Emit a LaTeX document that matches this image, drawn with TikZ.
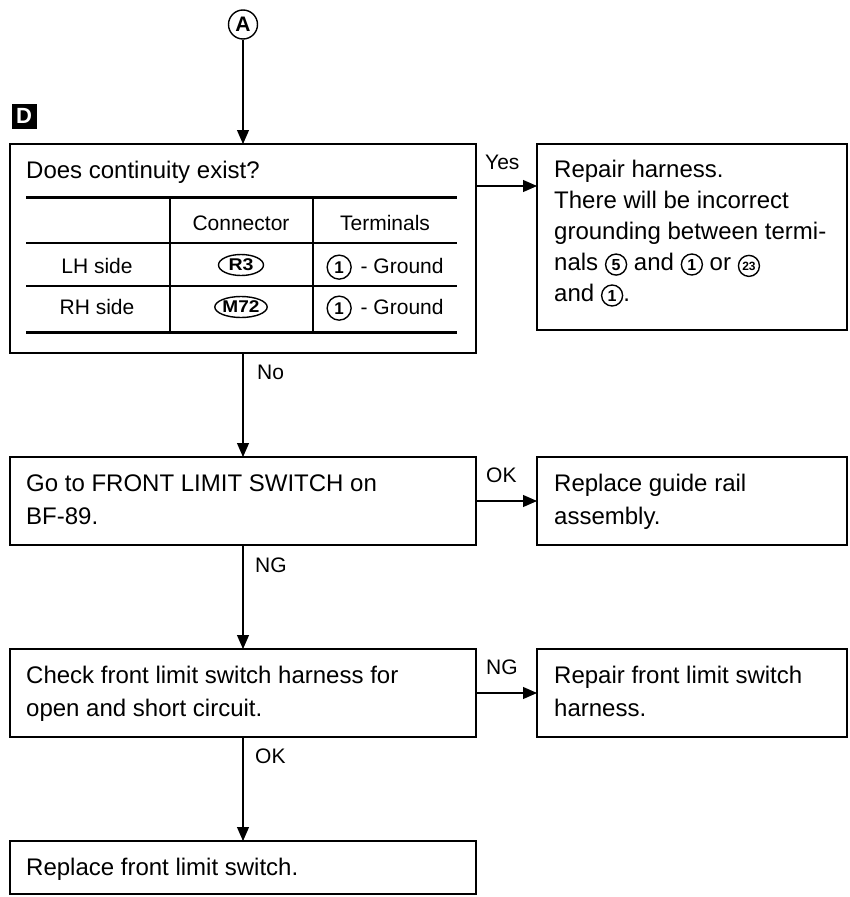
\documentclass[tikz,border=0pt]{standalone}
\usepackage{fontspec}
\usepackage{graphicx}
\setmainfont{Liberation Sans}
\usetikzlibrary{arrows.meta,shapes.geometric}
\newcommand{\circnum}[3]{\tikz[baseline=(cn.base)]{\node[inner sep=0pt,font=\fontsize{#2}{#2}\selectfont\bfseries](cn){#3};\draw[line width=1.4pt] (cn.center) circle[radius=#1pt];}}
\begin{document}
\begin{tikzpicture}[x=1pt,y=-1pt,
  box/.style={draw,line width=1.3pt,inner sep=0pt,outer sep=0pt},
  arr/.style={line width=1.1pt,-{Triangle[length=14pt,width=12pt]}},
  main/.style={inner sep=0pt,anchor=base west,font=\fontsize{24}{24}\selectfont},
  lbl/.style={inner sep=0pt,anchor=base west,font=\fontsize{21}{21}\selectfont},
  cell/.style={inner sep=0pt,anchor=base,font=\fontsize{21}{21}\selectfont},
  conn/.style={draw,ellipse,line width=1.4pt,inner sep=0pt,minimum width=45pt,minimum height=21pt,font=\fontsize{17}{17}\selectfont\bfseries},
  thick rule/.style={line width=3pt},
  thin rule/.style={line width=1.1pt}]
\useasboundingbox (0,0) rectangle (850,897);

% connector A and tag D
\node[circle,draw,line width=1.4pt,minimum size=29pt,inner sep=0pt,font=\bfseries\fontsize{21}{21}\selectfont] (A) at (243,24.5) {A};
\node[fill=black,minimum size=25pt,inner sep=0pt,text=white,font=\bfseries\fontsize{22}{22}\selectfont] (D) at (24,116) {D};

% boxes
\node[box,minimum width=466pt,minimum height=209pt] (b1) at (243,248.5) {};
\node[box,minimum width=310pt,minimum height=186pt] (b2) at (692,237) {};
\node[box,minimum width=466pt,minimum height=88pt] (b3) at (243,501) {};
\node[box,minimum width=310pt,minimum height=88pt] (b4) at (692,501) {};
\node[box,minimum width=466pt,minimum height=88pt] (b5) at (243,693) {};
\node[box,minimum width=310pt,minimum height=88pt] (b6) at (692,693) {};
\node[box,minimum width=466pt,minimum height=53pt] (b7) at (243,867.5) {};

% box 1 text and table
\node[main] (t1) at (26,178) {Does continuity exist?};
\draw[thick rule] (26,197) -- (457,197);
\draw[thin rule] (26,243) -- (457,243);
\draw[thin rule] (26,286) -- (457,286);
\draw[thick rule] (26,332) -- (457,332);
\draw[thin rule] (170,197) -- (170,332);
\draw[thin rule] (313,197) -- (313,332);
\node[cell] (hc) at (241,230) {Connector};
\node[cell] (ht) at (385,230) {Terminals};
\node[cell] (lh) at (97,273) {LH side};
\node[cell] (rh) at (97,314) {RH side};
\node[conn] (r3) at (241,265) {\scalebox{1.15}[1]{R3}};
\node[conn] (m72) at (241,307) {\scalebox{1.12}[1]{M72}};
\node[cell] (g1) at (385,273) {\circnum{12}{17}{1}\hspace{3pt} - Ground};
\node[cell] (g2) at (385,314) {\circnum{12}{17}{1}\hspace{3pt} - Ground};

% box 2 text
\node[main] (t2a) at (554,177) {Repair harness.};
\node[main] (t2b) at (554,208) {There will be incorrect};
\node[main] (t2c) at (554,239) {grounding between termi-};
\node[main] (t2d) at (554,270) {nals \circnum{10.5}{16}{5} and \circnum{10.5}{16}{1} or \circnum{10.5}{12}{23}};
\node[main] (t2e) at (554,301) {and \circnum{10.5}{16}{1}.};

% other box texts
\node[main] (t3a) at (26,491) {Go to FRONT LIMIT SWITCH on};
\node[main] (t3b) at (26,524) {BF-89.};
\node[main] (t4a) at (554,491) {Replace guide rail};
\node[main] (t4b) at (554,524) {assembly.};
\node[main] (t5a) at (26,683) {Check front limit switch harness for};
\node[main] (t5b) at (26,716) {open and short circuit.};
\node[main] (t6a) at (554,683) {Repair front limit switch};
\node[main] (t6b) at (554,716) {harness.};
\node[main] (t7) at (26,875) {Replace front limit switch.};

% connectors
\coordinate (yy) at (0,186);
\draw[arr] (A.south) -- (b1.north);
\draw[arr] (b1.east |- yy) -- (b2.west |- yy);
\draw[arr] (b1.south) -- (b3.north);
\draw[arr] (b3.east) -- (b4.west);
\draw[arr] (b3.south) -- (b5.north);
\draw[arr] (b5.east) -- (b6.west);
\draw[arr] (b5.south) -- (b7.north);

% labels
\node[lbl] (lyes) at (485,169) {Yes};
\node[lbl] (lno) at (257,379) {No};
\node[lbl] (lok1) at (486,482) {OK};
\node[lbl] (lng1) at (255,572) {NG};
\node[lbl] (lng2) at (486,674) {NG};
\node[lbl] (lok2) at (255,763) {OK};
\end{tikzpicture}
\end{document}
